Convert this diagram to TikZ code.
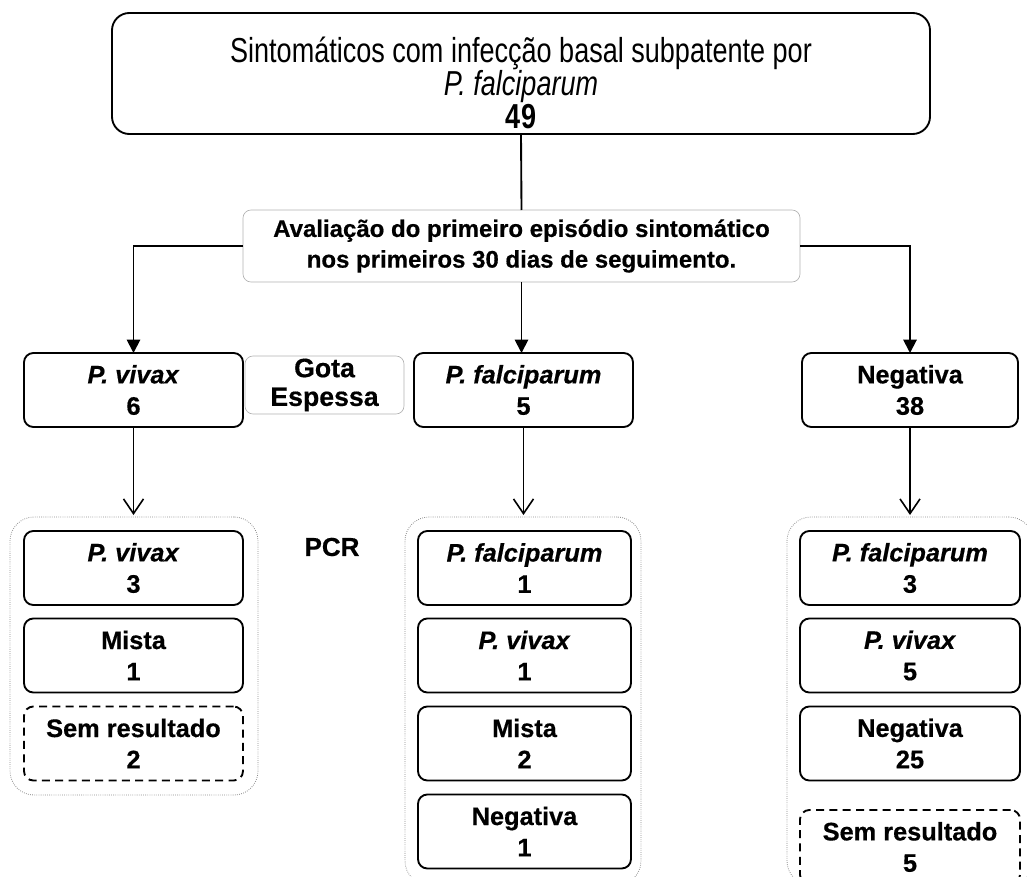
\documentclass[tikz,border=0pt]{standalone}
\usepackage{fontspec}
\setmainfont{Liberation Sans}[BoldFeatures={FakeBold=0.5},BoldItalicFeatures={FakeBold=0.5}]
\newfontfamily\narrowfont[FakeStretch=0.78]{Liberation Sans}
\usetikzlibrary{arrows.meta}
\begin{document}
\begin{tikzpicture}[x=0.75pt,y=-0.75pt,
  every node/.style={inner sep=0pt,outer sep=0pt,align=center},
  bodyfont/.style={font={\fontsize{19}{23.5}\selectfont\bfseries}},
  box/.style={draw=black,line width=1.4pt,rounded corners=7pt,fill=white,bodyfont,minimum height=55.5pt},
  dbox/.style={box,dash pattern=on 6pt off 4pt},
  gbox/.style={draw=black!30,line width=0.5pt,rounded corners=6pt,fill=white},
  grp/.style={draw=black!45,densely dotted,line width=0.6pt,rounded corners=18pt},
  conn/.style={line width=1.4pt},
  farrow/.style={conn,-{Triangle[length=10pt,width=10pt]}},
  oarrow/.style={line width=1.2pt,-{Straight Barb[length=11pt,width=15pt,line width=1.2pt]}}
]
\clip (0,0) rectangle (1027,877);

% groups
\node[grp,minimum width=186pt,minimum height=208.5pt] (gl) at (134,656) {};
\node[grp,minimum width=177pt,minimum height=276pt] (gm) at (523,701) {};
\node[grp,minimum width=184.5pt,minimum height=276pt] (gr) at (910,701) {};

% top
\node[box,rounded corners=13pt,minimum width=613.5pt,minimum height=90.75pt] (top) at (521,73.5) {};
\node[font={\narrowfont\fontsize{26}{24.5}\selectfont}] (toptext) at (521,83)
  {Sintomáticos com infecção basal subpatente por\\\textit{P. falciparum}\\\textbf{49}};

% evaluation
\node[gbox,minimum width=417.75pt,minimum height=54pt,font={\fontsize{18}{23}\selectfont\bfseries}] (eval) at (521.5,246)
  {Avaliação do primeiro episódio sintomático\\nos primeiros 30 dias de seguimento.};

% level 2
\node[box,minimum width=164.25pt] (pv6) at (133.5,390) {\textit{P. vivax}\\6};
\node[box,minimum width=164.25pt] (pf5) at (523.5,390) {\textit{P. falciparum}\\5};
\node[box,minimum width=162pt] (neg38) at (910,390) {Negativa\\38};
\node[gbox,minimum width=119.25pt,minimum height=43.5pt,font={\fontsize{20}{21.5}\selectfont\bfseries}] (gota) at (324.5,385) {Gota\\Espessa};

\node[font={\fontsize{19.5}{23}\selectfont\bfseries}] (pcr) at (332,547) {PCR};

% left inner
\node[box,minimum width=164.25pt] (l1) at (133.5,568) {\textit{P. vivax}\\3};
\node[box,minimum width=164.25pt] (l2) at (133.5,655.5) {Mista\\1};
\node[dbox,minimum width=164.25pt] (l3) at (133.5,743.5) {Sem resultado\\2};

% middle inner
\node[box,minimum width=159.75pt] (m1) at (524.5,568) {\textit{P. falciparum}\\1};
\node[box,minimum width=159.75pt] (m2) at (524.5,655.5) {\textit{P. vivax}\\1};
\node[box,minimum width=159.75pt] (m3) at (524.5,743.5) {Mista\\2};
\node[box,minimum width=159.75pt] (m4) at (524.5,831.5) {Negativa\\1};

% right inner
\node[box,minimum width=165pt] (r1) at (910,568) {\textit{P. falciparum}\\3};
\node[box,minimum width=165pt] (r2) at (910,655.5) {\textit{P. vivax}\\5};
\node[box,minimum width=165pt] (r3) at (910,743.5) {Negativa\\25};
\node[dbox,minimum width=165pt] (r4) at (910,847) {Sem resultado\\5};

% connectors
\draw[conn] (top.south) -- (eval.north);
\draw[farrow] (eval.west) -| (pv6.north);
\draw[farrow] (eval.east) -| (neg38.north);
\draw[farrow] (eval.south) -- (eval.south |- pf5.north);
\draw[oarrow,shorten >=1.5pt] (pv6.south) -- (pv6.south |- gl.north);
\draw[oarrow,shorten >=1.5pt] (pf5.south) -- (pf5.south |- gm.north);
\draw[oarrow,shorten >=1.5pt] (neg38.south) -- (neg38.south |- gr.north);
\end{tikzpicture}
\end{document}
